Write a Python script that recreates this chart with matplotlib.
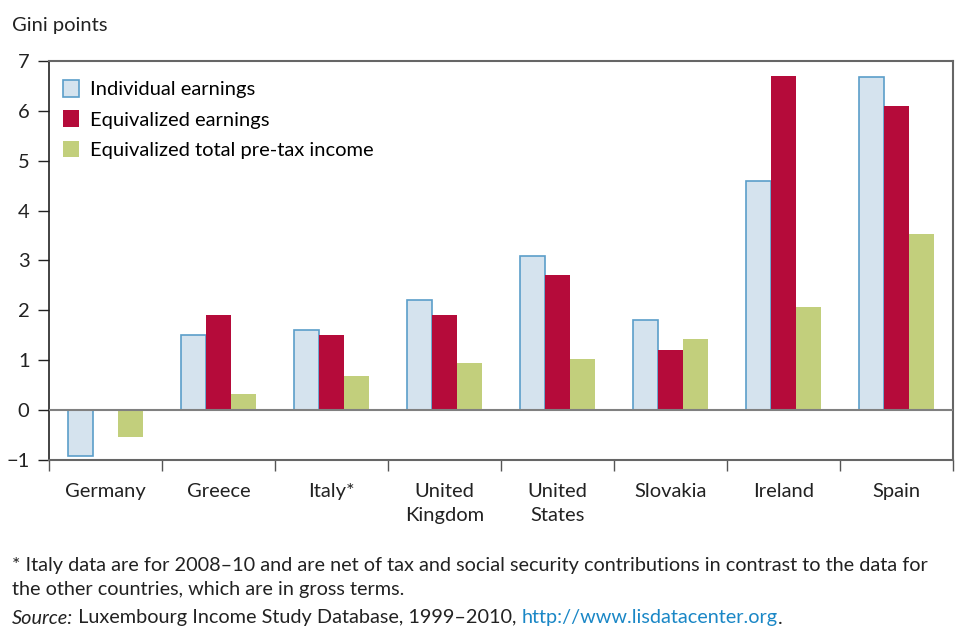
import numpy as np
import matplotlib
matplotlib.use('Agg')
import matplotlib.pyplot as plt
from matplotlib.patches import Patch

# Datos (puntos Gini)
countries = ['Germany', 'Greece', 'Italy*', 'United\nKingdom', 'United\nStates',
             'Slovakia', 'Ireland', 'Spain']
individual = [-0.92, 1.5, 1.6, 2.2, 3.1, 1.8, 4.6, 6.68]
equivalized = [0.0, 1.9, 1.5, 1.9, 2.7, 1.2, 6.7, 6.1]
total_pretax = [-0.53, 0.32, 0.68, 0.95, 1.02, 1.42, 2.06, 3.54]
series_names = ['Individual earnings', 'Equivalized earnings',
                'Equivalized total pre-tax income']
yticks = [-1, 0, 1, 2, 3, 4, 5, 6, 7]

plt.rcParams['font.family'] = ['Lato', 'DejaVu Sans']
fs = 14.5

fig = plt.figure(figsize=(9.61, 6.42), dpi=100)
ax = fig.add_axes([0.051, 0.2835, 0.9407, 0.6215])

x = np.arange(len(countries))
w = 0.223
c_ind = '#d5e3ee'
c_ind_edge = '#5b9ec9'
c_eq = '#b50b3a'
c_tot = '#c2cf7c'

ax.bar(x - w, individual, w, color=c_ind, edgecolor=c_ind_edge, linewidth=1.2, zorder=2)
ax.bar(x, equivalized, w, color=c_eq, edgecolor='none', zorder=2)
ax.bar(x + w, total_pretax, w, color=c_tot, edgecolor='none', zorder=2)

ax.axhline(0, color='#808080', linewidth=1.5, zorder=3)

ax.set_xlim(-0.5, len(countries) - 0.5)
ax.set_ylim(-1, 7)
ax.set_yticks(yticks)
ax.set_yticklabels(['\u22121'] + [str(v) for v in yticks[1:]])
ax.tick_params(axis='y', direction='out', length=8, width=1, colors='#222222',
               labelsize=fs, pad=6)

# ticks del eje x en los limites de cada pais
ax.set_xticks(np.arange(len(countries) + 1) - 0.5)
ax.set_xticklabels([])
ax.tick_params(axis='x', direction='out', length=8, width=1, colors='#555555')
for i, name in enumerate(countries):
    ax.text(i, -1.46, name, ha='center', va='top', fontsize=fs,
            color='#222222', linespacing=1.5)

for side in ['top', 'right', 'bottom']:
    ax.spines[side].set_color('#666666')
    ax.spines[side].set_linewidth(1.5)
ax.spines['left'].set_color('#222222')
ax.spines['left'].set_linewidth(1.2)

handles = [Patch(facecolor=c_ind, edgecolor=c_ind_edge, linewidth=1.2),
           Patch(facecolor=c_eq, edgecolor='none'),
           Patch(facecolor=c_tot, edgecolor='none')]
ax.legend(handles, series_names, loc='upper left', frameon=False, fontsize=fs,
          handlelength=0.8, handleheight=0.9, handletextpad=0.55,
          labelspacing=0.6, bbox_to_anchor=(0.0, 0.988), borderaxespad=0.3)

fig.text(12 / 961, 1 - 25 / 642, 'Gini points', fontsize=fs, va='center',
         color='#222222')

# notas al pie
fig.text(12 / 961, 1 - 565 / 642,
         '* Italy data are for 2008\u201310 and are net of tax and social security '
         'contributions in contrast to the data for', fontsize=14.3, va='center',
         color='#222222')
fig.text(12 / 961, 1 - 590 / 642, 'the other countries, which are in gross terms.',
         fontsize=14.3, va='center', color='#222222')

renderer = fig.canvas.get_renderer()
xpos = 12 / 961
ypos = 1 - 618 / 642
parts = [('Source:', 'italic', '#222222'),
         (' Luxembourg Income Study Database, 1999\u20132010, ', 'normal', '#222222'),
         ('http://www.lisdatacenter.org', 'normal', '#1a87c6'),
         ('.', 'normal', '#222222')]
for txt, style, col in parts:
    t = fig.text(xpos, ypos, txt, fontsize=14.3, va='center', style=style, color=col)
    bb = t.get_window_extent(renderer=renderer)
    xpos += bb.width / fig.bbox.width

fig.savefig('out.png', dpi=100)
